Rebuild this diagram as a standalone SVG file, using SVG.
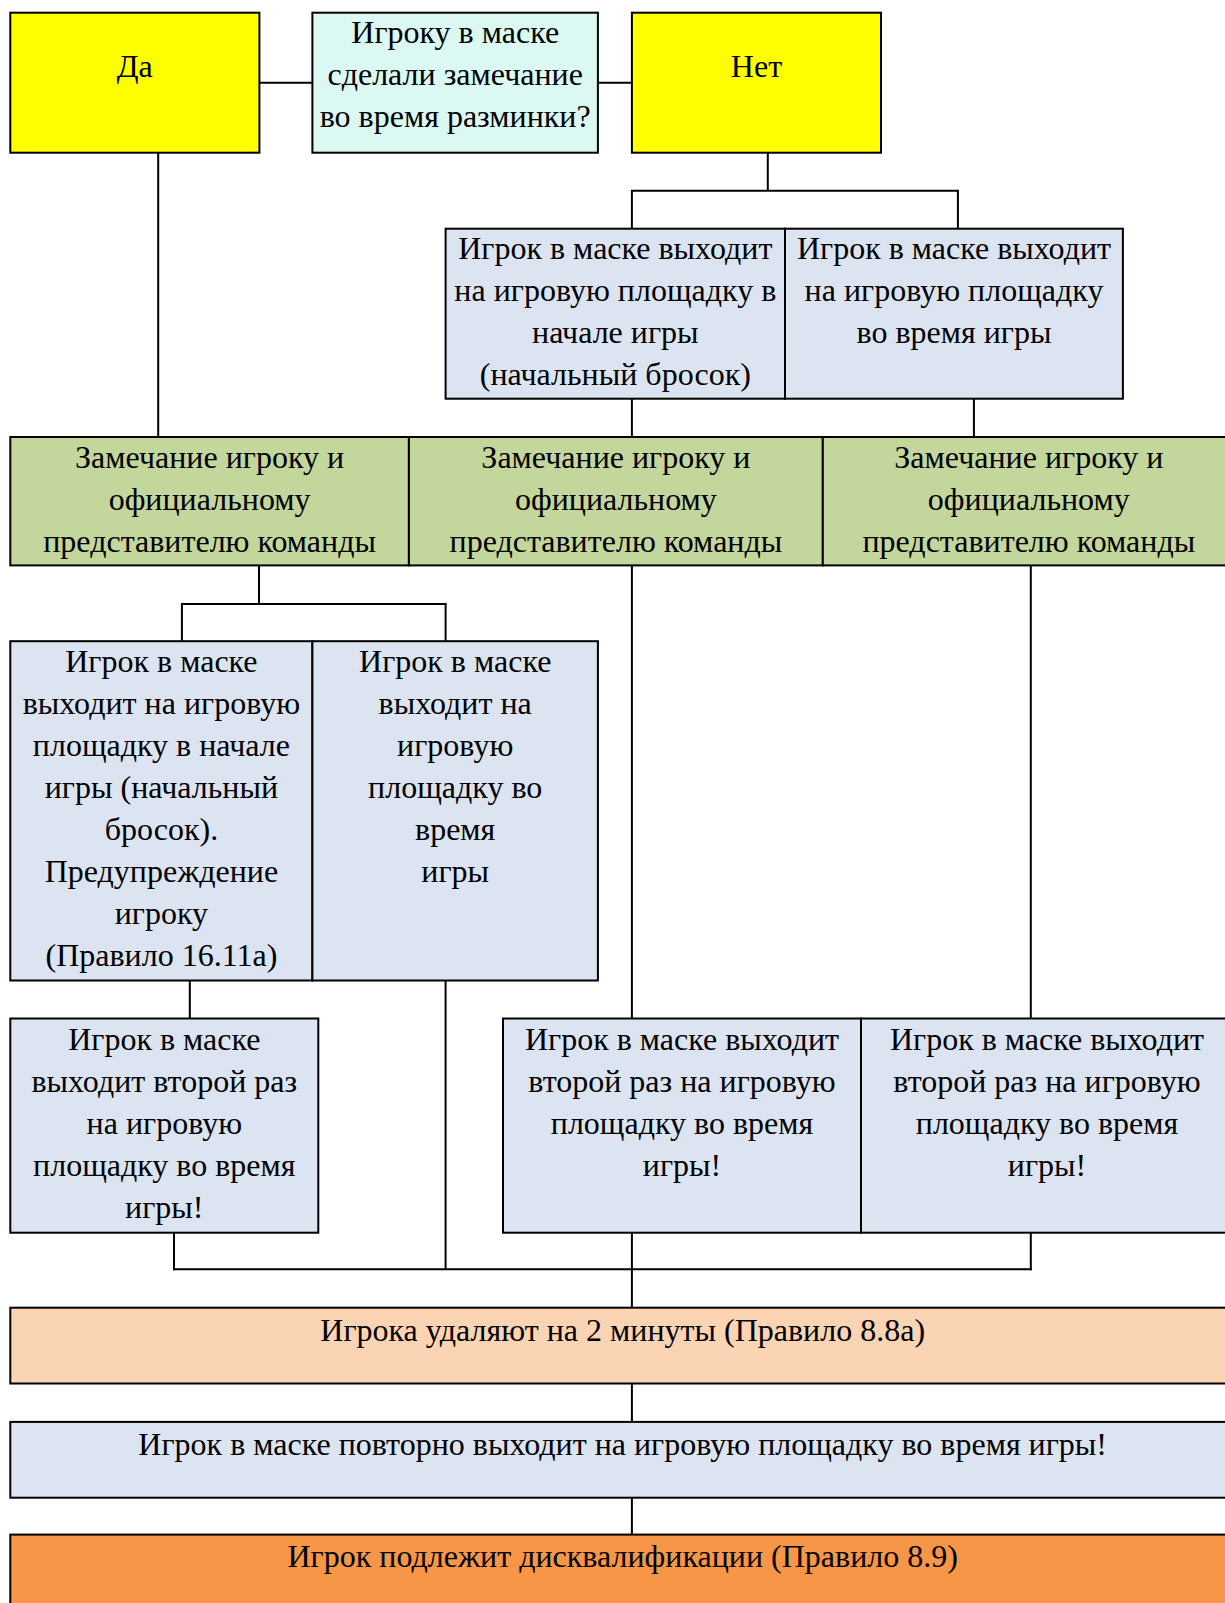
<svg xmlns="http://www.w3.org/2000/svg" width="1225" height="1603" viewBox="0 0 1225 1603">
<style>
.n rect{stroke:#000;stroke-width:2}
.y{fill:#FFFF00}.q{fill:#DBF8F3}.b{fill:#DBE4F0}.g{fill:#C3D69B}.p{fill:#FBD4B4}.o{fill:#F79646}
text{font-family:"Liberation Serif","Times New Roman",serif;font-size:32px;fill:#000;text-anchor:middle}
#connectors line{stroke:#000;stroke-width:2}
</style>
<rect x="0" y="0" width="1225" height="1603" fill="#fff"/>
<g id="connectors">
<line x1="259.4" y1="82.7" x2="312.4" y2="82.7"/>
<line x1="597.9" y1="82.7" x2="631.9" y2="82.7"/>
<line x1="158.2" y1="152.7" x2="158.2" y2="437"/>
<line x1="767.8" y1="152.7" x2="767.8" y2="190.7"/>
<line x1="630.9" y1="190.7" x2="958.9" y2="190.7"/>
<line x1="631.9" y1="190.7" x2="631.9" y2="228.7"/>
<line x1="957.9" y1="190.7" x2="957.9" y2="228.7"/>
<line x1="631.9" y1="398.7" x2="631.9" y2="437"/>
<line x1="973.9" y1="398.7" x2="973.9" y2="437"/>
<line x1="259" y1="565.4" x2="259" y2="604"/>
<line x1="180.9" y1="604" x2="446.6" y2="604"/>
<line x1="181.9" y1="604" x2="181.9" y2="641.2"/>
<line x1="445.6" y1="604" x2="445.6" y2="641.2"/>
<line x1="631.9" y1="565.4" x2="631.9" y2="1018.5"/>
<line x1="1030.8" y1="565.4" x2="1030.8" y2="1018.5"/>
<line x1="189.8" y1="980.5" x2="189.8" y2="1018.5"/>
<line x1="445.6" y1="980.5" x2="445.6" y2="1269.2"/>
<line x1="174" y1="1232.7" x2="174" y2="1270.2"/>
<line x1="173" y1="1269.2" x2="1031.8" y2="1269.2"/>
<line x1="1030.8" y1="1232.7" x2="1030.8" y2="1270.2"/>
<line x1="631.9" y1="1232.7" x2="631.9" y2="1307.7"/>
<line x1="631.9" y1="1383.5" x2="631.9" y2="1421.9"/>
<line x1="631.9" y1="1497.7" x2="631.9" y2="1534.6"/>
</g>
<g id="n-da" class="n"><rect class="y" x="10.3" y="12.7" width="249.1" height="140"/><text x="134.8" y="77.3">Да</text></g>
<g id="n-question" class="n"><rect class="q" x="312.4" y="12.7" width="285.5" height="140"/>
<text x="455.2" y="42.5">Игроку в маске</text><text x="455.2" y="84.5">сделали замечание</text><text x="455.2" y="126.5">во время разминки?</text></g>
<g id="n-net" class="n"><rect class="y" x="631.9" y="12.7" width="249.1" height="140"/><text x="756.5" y="77.3">Нет</text></g>
<g id="n-no-start" class="n"><rect class="b" x="445.6" y="228.7" width="339.4" height="170"/>
<text x="615.3" y="258.5">Игрок в маске выходит</text><text x="615.3" y="300.5">на игровую площадку в</text><text x="615.3" y="342.5">начале игры</text><text x="615.3" y="384.5">(начальный бросок)</text></g>
<g id="n-no-during" class="n"><rect class="b" x="785" y="228.7" width="337.9" height="170"/>
<text x="954" y="258.5">Игрок в маске выходит</text><text x="954" y="300.5">на игровую площадку</text><text x="954" y="342.5">во время игры</text></g>
<g id="n-warn1" class="n"><rect class="g" x="10.3" y="437" width="398.6" height="128.4"/>
<text x="209.6" y="467.5">Замечание игроку и</text><text x="209.6" y="509.7">официальному</text><text x="209.6" y="552">представителю команды</text></g>
<g id="n-warn2" class="n"><rect class="g" x="408.9" y="437" width="413.9" height="128.4"/>
<text x="615.9" y="467.5">Замечание игроку и</text><text x="615.9" y="509.7">официальному</text><text x="615.9" y="552">представителю команды</text></g>
<g id="n-warn3" class="n"><rect class="g" x="822.8" y="437" width="412" height="128.4"/>
<text x="1028.8" y="467.5">Замечание игроку и</text><text x="1028.8" y="509.7">официальному</text><text x="1028.8" y="552">представителю команды</text></g>
<g id="n-yes-start" class="n"><rect class="b" x="10.3" y="641.2" width="302.1" height="339.3"/>
<text x="161.4" y="671.6">Игрок в маске</text><text x="161.4" y="713.7">выходит на игровую</text><text x="161.4" y="755.8">площадку в начале</text><text x="161.4" y="797.9">игры (начальный</text><text x="161.4" y="840">бросок).</text><text x="161.4" y="882.1">Предупреждение</text><text x="161.4" y="924.2">игроку</text><text x="161.4" y="966.3">(Правило 16.11а)</text></g>
<g id="n-yes-during" class="n"><rect class="b" x="312.4" y="641.2" width="285.5" height="339.3"/>
<text x="455.2" y="671.6">Игрок в маске</text><text x="455.2" y="713.7">выходит на</text><text x="455.2" y="755.8">игровую</text><text x="455.2" y="797.9">площадку во</text><text x="455.2" y="840">время</text><text x="455.2" y="882.1">игры</text></g>
<g id="n-second-a" class="n"><rect class="b" x="10.3" y="1018.5" width="308" height="214.2"/>
<text x="164.3" y="1049.5">Игрок в маске</text><text x="164.3" y="1091.5">выходит второй раз</text><text x="164.3" y="1133.5">на игровую</text><text x="164.3" y="1175.5">площадку во время</text><text x="164.3" y="1217.5">игры!</text></g>
<g id="n-second-b" class="n"><rect class="b" x="503" y="1018.5" width="358" height="214.2"/>
<text x="682" y="1049.5">Игрок в маске выходит</text><text x="682" y="1091.5">второй раз на игровую</text><text x="682" y="1133.5">площадку во время</text><text x="682" y="1175.5">игры!</text></g>
<g id="n-second-c" class="n"><rect class="b" x="861" y="1018.5" width="372" height="214.2"/>
<text x="1047" y="1049.5">Игрок в маске выходит</text><text x="1047" y="1091.5">второй раз на игровую</text><text x="1047" y="1133.5">площадку во время</text><text x="1047" y="1175.5">игры!</text></g>
<g id="n-penalty" class="n"><rect class="p" x="10.3" y="1307.7" width="1225" height="75.8"/><text x="622.7" y="1341">Игрока удаляют на 2 минуты (Правило 8.8а)</text></g>
<g id="n-again" class="n"><rect class="b" x="10.3" y="1421.9" width="1225" height="75.8"/><text x="622.7" y="1455">Игрок в маске повторно выходит на игровую площадку во время игры!</text></g>
<g id="n-disq" class="n"><rect class="o" x="10.3" y="1534.6" width="1225" height="80"/><text x="622.7" y="1567">Игрок подлежит дисквалификации (Правило 8.9)</text></g>
</svg>
